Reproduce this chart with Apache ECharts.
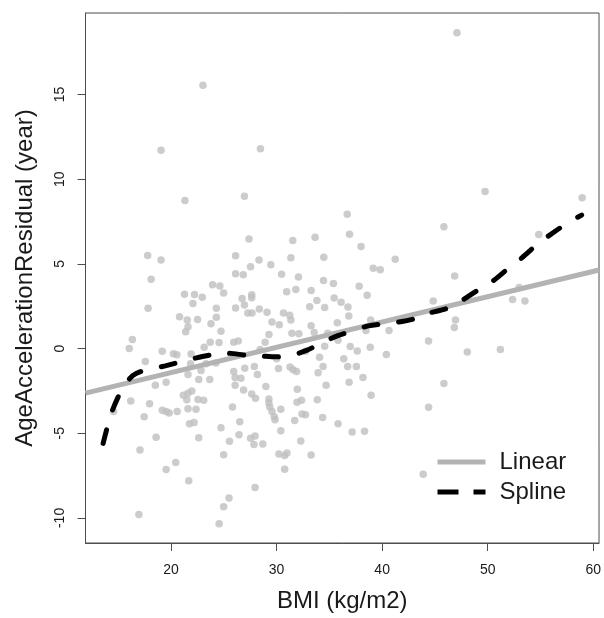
<!DOCTYPE html>
<html><head><meta charset="utf-8">
<script src="https://cdn.jsdelivr.net/npm/echarts@6/dist/echarts.min.js"></script>
<style>html,body{margin:0;padding:0;background:#fff}#c{width:604px;height:618px}</style>
</head><body><div id="c"></div>
<script>
const bmi = [47.09,23.02,19.05,28.47,49.75,58.95,21.31,26.95,36.69,45.85,36.91,27.38,33.64,31.53,38.00,54.84,17.78,19.05,26.11,28.33,31.35,34.47,41.24,29.45,27.53,18.11,26.11,26.84,30.47,32.07,39.16,39.82,34.44,46.87,35.38,23.93,24.62,37.82,24.98,30.95,31.82,33.27,21.27,22.22,27.64,52.98,26.73,22.95,27.64,38.58,35.45,33.82,36.11,22.07,26.95,44.84,52.36,53.53,17.82,24.29,26.11,28.36,33.13,34.55,36.76,27.27,27.67,29.09,30.65,31.24,20.80,24.29,36.84,21.53,22.51,38.91,46.95,23.78,29.56,30.25,35.75,33.27,21.60,46.84,24.73,21.38,31.45,32.11,33.56,38.47,40.65,29.27,34.84,16.33,35.82,44.40,23.71,25.93,26.36,28.91,24.55,23.13,16.04,34.55,36.98,38.87,51.20,19.16,20.22,20.55,21.89,28.44,32.73,40.40,48.07,37.64,34.07,36.36,30.00,17.56,24.25,23.31,21.85,27.89,36.73,37.56,34.40,26.98,31.27,30.18,31.56,25.93,31.89,22.84,33.93,21.60,26.07,26.62,28.18,38.18,22.62,23.67,19.53,36.87,45.85,18.51,26.07,34.69,28.98,26.87,31.96,21.96,21.60,21.16,27.64,38.95,28.00,29.27,16.18,21.49,22.55,23.09,32.36,33.85,31.93,17.96,29.27,29.35,25.82,21.60,22.36,30.40,14.55,19.16,19.53,19.82,20.58,29.56,32.40,32.73,29.78,29.85,17.45,34.36,22.18,21.75,26.51,31.71,35.82,24.73,30.40,37.16,38.33,26.44,27.96,18.58,22.62,27.53,32.29,25.53,27.85,28.69,17.05,24.98,30.22,30.76,30.98,33.27,20.44,19.53,30.76,43.89,21.67,27.96,25.49,24.98,16.95,24.55,44.40,31.35];
const resid = [18.64,15.54,11.70,11.79,9.27,8.90,8.74,8.99,7.93,7.19,6.75,6.47,6.57,6.38,6.03,6.73,5.50,5.23,5.48,5.23,5.36,5.39,5.27,4.95,4.83,4.09,4.42,4.35,4.39,4.23,4.74,4.65,4.02,4.28,3.84,3.77,3.70,3.68,3.28,3.35,3.49,3.42,3.21,3.19,3.17,3.61,2.96,3.03,3.00,3.14,2.98,2.84,2.73,2.66,2.57,2.80,2.89,2.80,2.38,2.38,2.40,2.34,2.47,2.43,2.45,2.10,2.10,2.15,2.10,1.97,1.87,1.85,1.92,1.69,1.71,1.69,1.69,1.46,1.57,1.41,1.53,1.34,1.29,1.25,1.02,0.99,0.90,0.88,0.95,1.06,1.06,0.83,0.90,0.53,0.49,0.44,0.37,0.37,0.44,0.37,0.35,0.07,0.00,0.14,0.12,0.07,-0.05,-0.16,-0.30,-0.37,-0.32,-0.05,-0.16,-0.35,-0.21,-0.14,-0.51,-0.60,-0.60,-0.76,-0.86,-0.90,-0.90,-1.06,-1.06,-1.06,-1.06,-1.16,-1.09,-1.18,-1.25,-1.36,-1.36,-1.29,-1.43,-1.53,-1.71,-1.76,-1.53,-1.71,-1.83,-1.83,-1.99,-1.99,-2.06,-2.17,-2.17,-2.17,-2.24,-2.45,-2.40,-2.50,-2.64,-2.75,-2.68,-2.75,-2.94,-2.98,-3.10,-3.03,-3.01,-3.05,-3.05,-3.03,-3.17,-3.26,-3.21,-3.45,-3.45,-3.56,-3.58,-3.58,-3.72,-3.65,-3.72,-3.81,-3.72,-3.72,-3.86,-3.91,-4.02,-4.21,-4.02,-4.07,-4.37,-4.44,-4.32,-4.25,-4.44,-4.67,-4.86,-4.92,-4.88,-5.09,-5.16,-5.23,-5.27,-5.29,-5.46,-5.48,-5.66,-5.64,-5.99,-6.27,-6.22,-6.31,-6.17,-6.29,-6.73,-7.14,-7.12,-7.42,-7.81,-8.21,-8.83,-9.34,-9.80,-10.34,-3.47,1.69];

const linearBMI = [11.89, 60.55];
const linearResid = [-2.63, 4.64];

const splineBMI = [13.56,14.36,15.45,16.36,17.1,18.2,19.45,20.9,22.4,23.8,25.3,27.1,28.5,30.0,31.45,32.9,34.4,35.8,37.3,38.7,40.2,41.6,43.1,44.5,46.0,47.45,48.9,50.4,51.8,53.3,54.7,56.2,57.6,58.9];
const splineResid = [-5.6,-3.79,-2.29,-1.6,-1.36,-1.2,-1.02,-0.79,-0.55,-0.37,-0.28,-0.39,-0.44,-0.49,-0.39,-0.09,0.37,0.76,1.06,1.34,1.46,1.57,1.76,2.1,2.34,2.8,3.38,3.95,4.65,5.39,6.15,6.84,7.42,7.88];

const xTicks = [20, 30, 40, 50, 60];
const yTicks = [-10, -5, 0, 5, 10, 15];
const xName = 'BMI (kg/m2)';
const yName = 'AgeAccelerationResidual (year)';
const seriesNames = ['Linear', 'Spline'];

const FONT = 'Liberation Sans, Arial, Helvetica, sans-serif';
const chart = echarts.init(document.getElementById('c'), null, {renderer: 'canvas'});
chart.setOption({
  animation: false,
  backgroundColor: '#ffffff',
  grid: {left: 85.5, right: 3, top: 13, bottom: 71, show: true, borderColor: '#4d4d4d', borderWidth: 1, backgroundColor: 'transparent'},
  xAxis: {
    type: 'value', min: 11.89, max: 60.55,
    name: xName, nameLocation: 'middle', nameGap: 46,
    nameTextStyle: {fontFamily: FONT, fontSize: 24, color: '#1a1a1a'},
    axisLine: {show: true, onZero: false, lineStyle: {color: '#4d4d4d', width: 1}},
    splitLine: {show: false},
    axisTick: {show: true, length: 8, lineStyle: {color: '#4d4d4d', width: 1}, customValues: xTicks},
    axisLabel: {fontFamily: FONT, fontSize: 14, color: '#1a1a1a', margin: 20, customValues: xTicks}
  },
  yAxis: {
    type: 'value', min: -11.48, max: 19.81,
    name: yName, nameLocation: 'middle', nameGap: 48,
    nameTextStyle: {fontFamily: FONT, fontSize: 24, color: '#1a1a1a'},
    axisLine: {show: true, onZero: false, lineStyle: {color: '#4d4d4d', width: 1}},
    splitLine: {show: false},
    axisTick: {show: true, length: 8, lineStyle: {color: '#4d4d4d', width: 1}, customValues: yTicks},
    axisLabel: {fontFamily: FONT, fontSize: 14, color: '#1a1a1a', margin: 18, rotate: 90, customValues: yTicks}
  },
  legend: {
    orient: 'vertical', left: 430, top: 445,
    itemWidth: 48, itemHeight: 14, itemGap: 6,
    textStyle: {fontFamily: FONT, fontSize: 24, color: '#1a1a1a', lineHeight: 24, padding: [0, 0, 0, 9]},
    itemStyle: {opacity: 0},
    lineStyle: {width: 5},
    data: [
      {name: seriesNames[0]},
      {name: seriesNames[1], lineStyle: {width: 5, type: [21, 15], cap: 'butt'}}
    ],
    selectedMode: false
  },
  series: [
    {
      type: 'scatter', name: 'points', silent: true, z: 1,
      symbol: 'circle', symbolSize: 7.5,
      itemStyle: {color: '#bfbfbf'},
      data: bmi.map((b, i) => [b, resid[i]])
    },
    {
      type: 'line', name: seriesNames[0], z: 3, silent: true, symbol: 'none',
      lineStyle: {color: '#b3b3b3', width: 5},
      itemStyle: {color: '#b3b3b3'},
      data: linearBMI.map((b, i) => [b, linearResid[i]])
    },
    {
      type: 'line', name: seriesNames[1], z: 4, silent: true, symbol: 'none', smooth: 0.3,
      lineStyle: {color: '#000000', width: 5, type: [14, 21], cap: 'round'},
      itemStyle: {color: '#000000'},
      data: splineBMI.map((b, i) => [b, splineResid[i]])
    }
  ]
});
</script>
</body></html>
